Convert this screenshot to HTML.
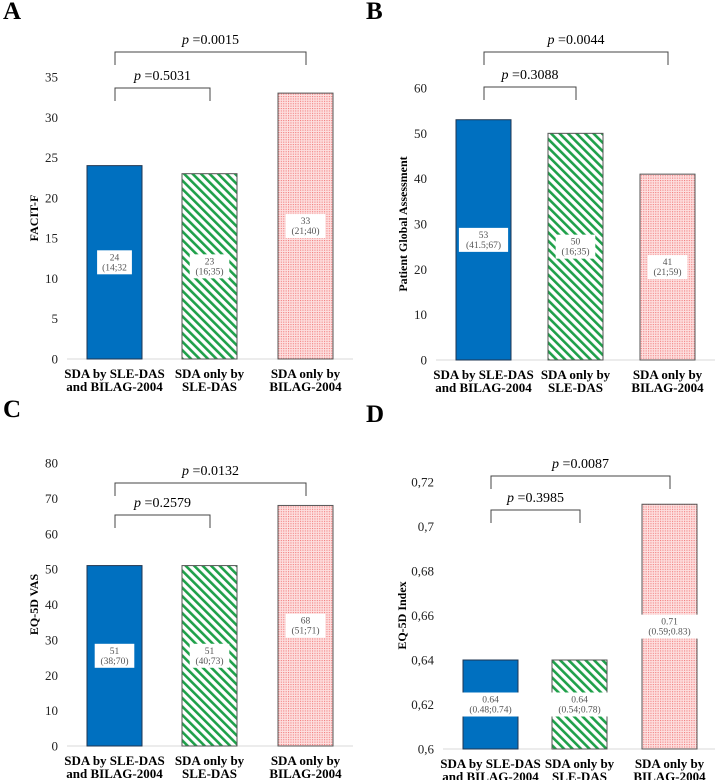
<!DOCTYPE html>
<html><head><meta charset="utf-8">
<style>
body{margin:0;background:#fff;}
svg{display:block;}
svg text{font-family:"Liberation Serif","DejaVu Serif",serif;}
</style></head>
<body>
<svg id="c" width="715" height="780" viewBox="0 0 715 780" font-family="Liberation Serif, serif">
<defs>
<pattern id="stripes" patternUnits="userSpaceOnUse" width="6" height="6" patternTransform="rotate(-45)">
<rect width="6" height="6" fill="#fff"/>
<rect x="0" y="0" width="2.6" height="6" fill="#1fa04a"/>
</pattern>
<pattern id="dots" patternUnits="userSpaceOnUse" width="2.4" height="2.4">
<rect width="2.4" height="2.4" fill="#fde0e0"/>
<rect width="1.1" height="1.1" fill="#f27c7c"/>
</pattern>
</defs>
</svg>
<script>
const categories = [["SDA by SLE-DAS","and BILAG-2004"],["SDA only by","SLE-DAS"],["SDA only by","BILAG-2004"]];
const valuesA = [24, 23, 33];
const labelsA = [["24","(14;32"],["23","(16;35)"],["33","(21;40)"]];
const ticksA = [0,5,10,15,20,25,30,35];
const valuesB = [53, 50, 41];
const labelsB = [["53","(41.5;67)"],["50","(16;35)"],["41","(21;59)"]];
const ticksB = [0,10,20,30,40,50,60];
const valuesC = [51, 51, 68];
const labelsC = [["51","(38;70)"],["51","(40;73)"],["68","(51;71)"]];
const ticksC = [0,10,20,30,40,50,60,70,80];
const valuesD = [0.64, 0.64, 0.71];
const labelsD = [["0.64","(0.48;0.74)"],["0.64","(0.54;0.78)"],["0.71","(0.59;0.83)"]];
const ticksD = [0.6,0.62,0.64,0.66,0.68,0.7,0.72];
const pvals = {A:["0.5031","0.0015"],B:["0.3088","0.0044"],C:["0.2579","0.0132"],D:["0.3985","0.0087"]};

const svg = document.getElementById('c');
const NS = 'http://www.w3.org/2000/svg';
const FF = 'Liberation Serif, DejaVu Serif, serif';
function mk(tag, attrs, parent){const e=document.createElementNS(NS,tag);for(const k in attrs)e.setAttribute(k,attrs[k]);if(tag==='text')e.setAttribute('font-family',FF);(parent||svg).appendChild(e);return e;}
const fills = ['#0070c0','url(#stripes)','url(#dots)'];

function panel(letter, ox, oy, y0px, ymin, ymaxTick, ymaxPx, ticks, vals, labs, yTitle, tickFmt, barX, bigY, smallY, titleOff){
  const g = mk('g',{});
  
  
  const y = v => y0px - (v - ymin) / (ymaxTick - ymin) * (y0px - ymaxPx);
  const L = mk('text',{x:ox+3,y:oy+19,'font-size':25,'font-weight':'bold'},g); L.textContent=letter;
   
  const ln = mk('line',{x1:barX[0]-20,x2:barX[2]+75,y1:y0px,y2:y0px,stroke:'#d9d9d9','stroke-width':1},g);
   
  ticks.forEach(t=>{
    const tx = mk('text',{x:barX[0]-29,y:y(t)+4.5,'font-size':13,'text-anchor':'end',fill:'#222'},g);
    tx.textContent = tickFmt(t);
     
  });
  const tl = mk('text',{transform:`translate(${barX[0]-titleOff},${(y0px+ymaxPx)/2}) rotate(-90)`,'font-size':12,'font-weight':'bold','text-anchor':'middle'},g);
  tl.textContent = yTitle;  
  vals.forEach((v,i)=>{
    const x=barX[i], w=55, top=y(v);
    const r = mk('rect',{x:x,y:top,width:w,height:y0px-top,fill:fills[i],stroke:i==0?'#1f3550':'#555','stroke-width':1},g);
     
    const mid=(top+y0px)/2;
    const bw = labs[i][1].length*4.8+6;
    const b = mk('rect',{x:x+w/2-bw/2,y:mid-12,width:bw,height:24,fill:'#fff'},g);
     
    labs[i].forEach((s,k)=>{const t=mk('text',{x:x+w/2,y:mid-2+k*10,'font-size':9.5,'text-anchor':'middle',fill:'#555'},g);t.textContent=s;
       });
    categories[i].forEach((s,k)=>{const t=mk('text',{x:x+w/2,y:y0px+19+k*13,'font-size':13,'font-weight':'bold','text-anchor':'middle'},g);t.textContent=s;
       });
  });
  const c = barX.map(x=>x+28);
  [[smallY,c[0],c[1],pvals[letter][0]],[bigY,c[0],c[2],pvals[letter][1]]].forEach(([by,a,b2,p])=>{
    const br = mk('path',{d:`M${a},${by+13}V${by}H${b2}V${by+13}`,fill:'none',stroke:'#444','stroke-width':1},g);
     
    const t = mk('text',{x:(a+b2)/2,y:by-8,'font-size':14,'text-anchor':'middle'},g);
    t.innerHTML = '<tspan font-style="italic">p</tspan> =' + p;
     
  });
}
const comma = t => String(+t.toFixed(2)).replace('.',',');
panel('A',0,0,359,0,35,77,ticksA,valuesA,labelsA,'FACIT-F',comma,[87,182,278],52,88,49);
panel('B',363,0,360,0,60,88,ticksB,valuesB,labelsB,'Patient Global Assessment',comma,[456,548,640],52,87,49);
panel('C',0,398,746,0,80,463,ticksC,valuesC,labelsC,'EQ-5D VAS',comma,[87,182,278],483,515,49);
panel('D',363,403,749,0.6,0.72,482,ticksD,valuesD,labelsD,'EQ-5D Index',comma,[463,552,642],476,510,57);
</script>
</body></html>
